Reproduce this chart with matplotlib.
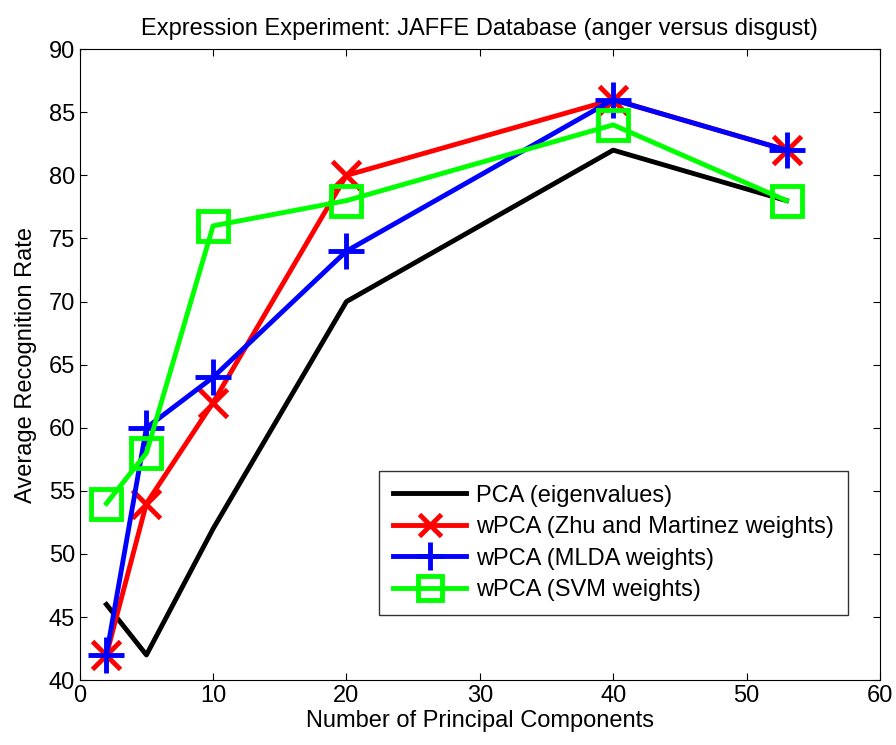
import matplotlib
matplotlib.use('Agg')
import matplotlib.pyplot as plt

plt.rcParams['font.family'] = ['Liberation Sans', 'DejaVu Sans']

# number of principal components
n_comp = [2, 5, 10, 20, 40, 53]

# average recognition rates
pca = [46, 42, 52, 70, 82, 78]
zhu = [42, 54, 62, 80, 86, 82]
mlda = [42, 60, 64, 74, 86, 82]
svm = [54, 58, 76, 78, 84, 78]

labels = ['PCA (eigenvalues)', 'wPCA (Zhu and Martinez weights)',
          'wPCA (MLDA weights)', 'wPCA (SVM weights)']

fig = plt.figure(figsize=(8.96, 7.45), dpi=100)
ax = fig.add_axes([0.089, 0.087, 0.893, 0.847])

ax.plot(n_comp, pca, color='k', lw=3.5, label=labels[0])
ax.plot(n_comp, zhu, color='r', lw=3.5, marker='x', ms=20, mew=3.5, label=labels[1])
ax.plot(n_comp, mlda, color='b', lw=3.5, marker='+', ms=26, mew=3.5, label=labels[2])
ax.plot(n_comp, svm, color='#00ff00', lw=3.5, marker='s', ms=21, mew=3.5,
        mfc='none', label=labels[3])

ax.set_xlim(0, 60)
ax.set_ylim(40, 90)
ax.set_xticks(range(0, 61, 10))
ax.set_yticks(range(40, 91, 5))
ax.tick_params(direction='in', labelsize=17, length=5)
ax.tick_params(top=True, right=True)
ax.set_xlabel('Number of Principal Components', fontsize=17, labelpad=2)
ax.set_ylabel('Average Recognition Rate', fontsize=17, labelpad=8)
ax.set_title('Expression Experiment: JAFFE Database (anger versus disgust)',
             fontsize=17, pad=10)

ax.legend(loc='lower right', bbox_to_anchor=(0.96, 0.103), fontsize=17, frameon=True,
          fancybox=False, edgecolor='k', handlelength=3.1, handletextpad=0.4,
          borderpad=0.6, labelspacing=0.4, borderaxespad=0, markerscale=0.8)

fig.savefig('out.png', dpi=100)
